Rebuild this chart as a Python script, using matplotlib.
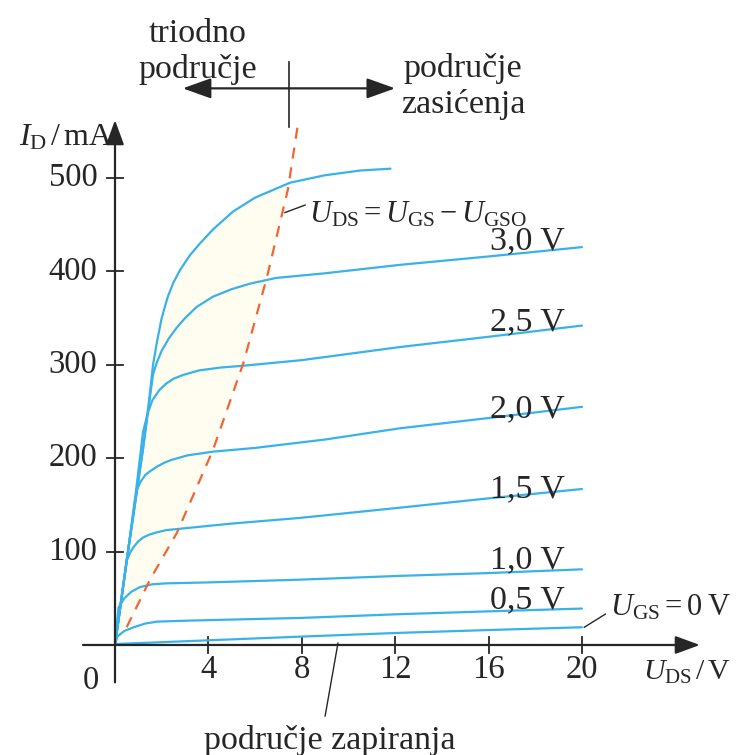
import matplotlib
matplotlib.use("Agg")
import matplotlib.pyplot as plt

plt.rcParams['font.family'] = ['Liberation Serif', 'DejaVu Serif']
plt.rcParams['mathtext.fontset'] = 'custom'
plt.rcParams['mathtext.rm'] = 'Liberation Serif'
plt.rcParams['mathtext.it'] = 'Liberation Serif:italic'

# output characteristics, U_DS in V, I_D in mA
top_x = [0, 0.5, 1.2, 1.45, 1.63, 1.8, 2.0, 2.25, 2.5, 2.8, 3.2, 3.64, 4.2, 5.05, 6.0, 7.5, 9.0, 10.5, 11.8]
top_i = [0, 90, 210, 260, 300, 325, 350, 372, 388, 402, 417, 430, 445, 464, 479, 495, 503, 508, 510]

u30_x = [0, 0.5, 1.2, 1.63, 1.8, 2.0, 2.3, 2.65, 3.0, 3.5, 4.2, 5.0, 5.8, 6.9, 9, 12.2, 16, 20]
u30_i = [0, 90, 210, 290, 303, 315, 328, 340, 350, 362, 373, 381, 387, 393, 398, 407, 416, 426]
u25_x = [0, 0.5, 0.9, 1.2, 1.4, 1.6, 1.9, 2.2, 2.5, 2.9, 3.6, 4.5, 5.5, 8, 12.2, 16, 20]
u25_i = [0, 90, 165, 228, 248, 262, 273, 280, 285, 289, 294, 297, 299, 305, 319, 330, 342]
u20_x = [0, 0.5, 0.93, 1.1, 1.3, 1.5, 1.8, 2.1, 2.4, 3.1, 4.2, 6, 9, 12.2, 16, 20]
u20_i = [0, 90, 166, 175, 182, 186, 191, 195, 198, 203, 207, 211, 220, 232, 243, 255]
u15_x = [0, 0.5, 0.65, 0.8, 1.0, 1.2, 1.45, 1.7, 2.2, 3, 5, 7.9, 12.2, 16, 20]
u15_i = [0, 90, 99, 105, 111, 115, 118, 120, 123, 125, 130, 136, 147, 157, 167]
u10_x = [0, 0.15, 0.4, 0.7, 1.07, 1.6, 2.2, 4, 8, 12.2, 16, 20]
u10_i = [0, 40, 50, 57, 62, 65, 66, 67, 70, 74, 77, 81]
u05_x = [0, 0.1, 0.4, 0.8, 1.3, 1.8, 3, 8, 12.2, 16, 20]
u05_i = [0, 9, 15, 19, 23, 25, 26, 29, 33, 36, 39]
u00_x = [0, 4, 8, 12.2, 16, 20]
u00_i = [1, 5, 9, 13, 16, 19]

curves = [(top_x, top_i), (u30_x, u30_i), (u25_x, u25_i), (u20_x, u20_i),
          (u15_x, u15_i), (u10_x, u10_i), (u05_x, u05_i), (u00_x, u00_i)]

# labels at the right end of the curves: (text, baseline I_D)
curve_labels = [("3,0 V", 424), ("2,5 V", 337), ("2,0 V", 244),
                ("1,5 V", 158), ("1,0 V", 82), ("0,5 V", 39)]

# boundary U_DS = U_GS - U_GSO
sat_x = [0.5, 1.5, 2.65, 4.2, 5.5, 6.5, 7.4, 7.85]
sat_i = [19, 70, 120, 209, 302, 393, 487, 560]

x_ticks = [4, 8, 12, 16, 20]
y_ticks = [100, 200, 300, 400, 500]

blue = '#38b2e8'
red = '#f06535'
ink = '#262626'
fs = 24.5
fs_math = 22

fig = plt.figure(figsize=(7.37, 7.55), dpi=100)
ax = fig.add_axes([0, 0, 1, 1])
ax.set_xlim(-4.925, 26.64)
ax.set_ylim(-117.8, 690.6)
ax.axis('off')

# very faint shading of the triode region
n_top = 16
poly_x = top_x[:n_top] + sat_x[::-1][1:] + [0]
poly_i = top_i[:n_top] + sat_i[::-1][1:] + [0]
ax.fill(poly_x, poly_i, color='#fffdf0', lw=0, zorder=0)

# axes with arrows
arr = dict(arrowstyle='-|>,head_length=0.6,head_width=0.22', lw=1.6, color=ink,
           mutation_scale=25, shrinkA=0, shrinkB=0)
ax.annotate('', xy=(0, 562), xytext=(0, -40), arrowprops=arr)
ax.annotate('', xy=(25.05, 0), xytext=(-1.37, 0), arrowprops=arr)

for t in y_ticks:
    ax.plot([-0.34, 0.34], [t, t], color=ink, lw=1.3)
    ax.text(-0.75, t, str(t), ha='right', va='center', fontsize=23.5, color=ink)
for t in x_ticks:
    ax.plot([t, t], [9, -9], color=ink, lw=1.3)
    ax.text(t, -26, str(t), ha='center', va='center', fontsize=23.5, color=ink)
ax.text(-1.05, -38, "0", ha='center', va='center', fontsize=23.5, color=ink)

ax.text(-0.1, 543, r"$I_{\mathrm{D}}\,/\,\mathrm{mA}$", ha='right', va='center',
        fontsize=23, color=ink)
ax.text(22.6, -29, r"$U_{\mathrm{DS}}\,/\,\mathrm{V}$", ha='left', va='center',
        fontsize=21.5, color=ink)

# curves
for cx, ci in curves:
    ax.plot(cx, ci, color=blue, lw=1.6, solid_capstyle='round', solid_joinstyle='round')
ax.plot(sat_x, sat_i, color=red, lw=1.6, dashes=(5, 4))

for txt, yb in curve_labels:
    ax.text(19.25, yb, txt, ha='right', va='baseline', fontsize=fs, color=ink)

ax.plot([20.1, 21.0], [19, 33], color=ink, lw=1)
ax.text(21.2, 32, r"$U_{\mathrm{GS}} = 0\;\mathrm{V}$", ha='left', va='baseline',
        fontsize=fs_math, color=ink)

ax.plot([7.28, 8.14], [463, 471], color=ink, lw=1)
ax.text(8.3, 452, r"$U_{\mathrm{DS}} = U_{\mathrm{GS}} - U_{\mathrm{GSO}}$",
        ha='left', va='baseline', fontsize=fs_math, color=ink)

ax.plot([9.55, 9.0], [2, -76], color=ink, lw=1)
ax.text(9.2, -102, "područje zapiranja", ha='center', va='center', fontsize=fs, color=ink)

# region arrows at the top
ax.annotate('', xy=(2.9, 596), xytext=(12.0, 596),
            arrowprops=dict(arrowstyle='<|-|>,head_length=0.7,head_width=0.25', lw=1.6,
                            color=ink, mutation_scale=25, shrinkA=0, shrinkB=0))
ax.plot([7.45, 7.45], [624, 555], color=ink, lw=1.2)
ax.text(3.55, 635, "triodno\npodručje", ha='center', va='center', fontsize=fs,
        color=ink, linespacing=1.2)
ax.text(14.9, 598, "područje\nzasićenja", ha='center', va='center', fontsize=fs,
        color=ink, linespacing=1.2)

fig.savefig("out.png", dpi=100)
